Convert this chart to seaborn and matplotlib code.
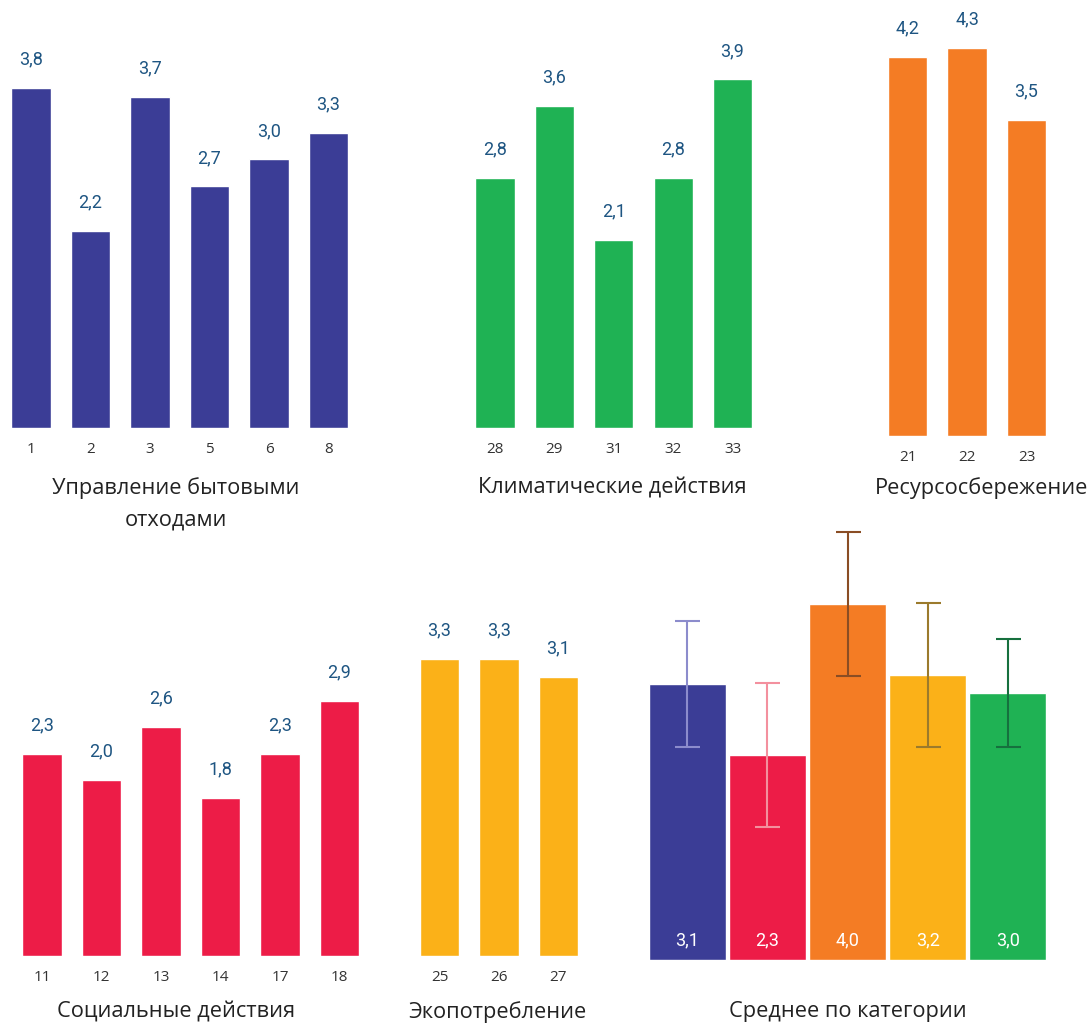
import numpy as np
import pandas as pd
import seaborn as sns
import matplotlib.pyplot as plt

# dados de cada categoria
waste_ids = ["1", "2", "3", "5", "6", "8"]
waste_vals = [3.8, 2.2, 3.7, 2.7, 3.0, 3.3]

climate_ids = ["28", "29", "31", "32", "33"]
climate_vals = [2.8, 3.6, 2.1, 2.8, 3.9]

resource_ids = ["21", "22", "23"]
resource_vals = [4.2, 4.3, 3.5]

social_ids = ["11", "12", "13", "14", "17", "18"]
social_vals = [2.3, 2.0, 2.6, 1.8, 2.3, 2.9]

eco_ids = ["25", "26", "27"]
eco_vals = [3.3, 3.3, 3.1]

mean_cats = ["waste", "social", "resource", "eco", "climate"]
mean_vals = [3.1, 2.3, 4.0, 3.2, 3.0]
mean_err = [0.71, 0.81, 0.81, 0.81, 0.61]

BLUE = "#3b3d96"
GREEN = "#1fb254"
ORANGE = "#f47c24"
RED = "#ed1c47"
YELLOW = "#fbb118"
err_colors = ["#8c8ccc", "#f3909e", "#8a4d24", "#9b7a2c", "#16703e"]
lab_color = "#1e5582"

sns.set_theme(style="white")
plt.rcParams['font.family'] = ['Roboto', 'DejaVu Sans']

W, H = 1092, 1025
fig = plt.figure(figsize=(W / 100, H / 100), dpi=100)


def painel(x0, x1, base, top, scale):
    # cria eixo em coordenadas de pixel
    ax = fig.add_axes([x0 / W, 1 - base / H, (x1 - x0) / W, (base - top) / H])
    ax.set_ylim(0, (base - top) / scale)
    for s in ax.spines.values():
        s.set_visible(False)
    ax.set_yticks([])
    ax.set_ylabel("")
    ax.set_xlabel("")
    return ax


def barras(ax, ids, vals, cor):
    sns.barplot(x=ids, y=vals, color=cor, saturation=1, width=0.66, ax=ax)
    ax.set_ylim(ax.get_ylim())
    for i, v in enumerate(vals):
        ax.annotate(f"{v:.1f}".replace(".", ","), (i, v), xytext=(0, 14),
                    textcoords="offset points", ha="center", va="bottom",
                    fontsize=13, color=lab_color)
    ax.tick_params(axis="x", length=0, pad=10, labelsize=11, labelcolor="#333333")
    for t in ax.get_xticklabels():
        t.set_fontfamily("Open Sans")


ax1 = painel(1.25, 358.25, 428, 0, 89.5)
barras(ax1, waste_ids, waste_vals, BLUE)
ax1.set_ylim(0, 428 / 89.5)

ax2 = painel(465.3, 762.2, 428, 0, 89.4)
barras(ax2, climate_ids, climate_vals, GREEN)
ax2.set_ylim(0, 428 / 89.4)

ax3 = painel(877.75, 1056.25, 436, 0, 90.2)
barras(ax3, resource_ids, resource_vals, ORANGE)
ax3.set_ylim(0, 436 / 90.2)

ax4 = painel(12.25, 369.25, 956, 520, 88)
barras(ax4, social_ids, social_vals, RED)
ax4.set_ylim(0, 436 / 88)

ax5 = painel(409.75, 588.25, 956, 520, 90)
barras(ax5, eco_ids, eco_vals, YELLOW)
ax5.set_ylim(0, 436 / 90)

# grafico de medias
ax6 = painel(647, 1048, 960, 520, 89)
sns.barplot(x=mean_cats, y=mean_vals, hue=mean_cats,
            palette=[BLUE, RED, ORANGE, YELLOW, GREEN], saturation=1,
            width=0.96, legend=False, ax=ax6)
for i, (v, e) in enumerate(zip(mean_vals, mean_err)):
    ax6.errorbar(i, v, yerr=e, color=err_colors[i], capsize=9, elinewidth=1.5,
                 capthick=1.5, fmt="none")
    ax6.text(i, 0.22, f"{v:.1f}".replace(".", ","), ha="center", va="center",
             fontsize=13, color="white")
ax6.set_xlim(-0.5, len(mean_cats) - 0.5)
ax6.set_ylim(0, 440 / 89)
ax6.set_xticks([])
ax6.set_xlabel("")
ax6.set_ylabel("")

# titulos das categorias
tit = dict(ha="center", va="center", fontsize=15.7, color="#222222",
           fontfamily="Open Sans")
fig.text(176 / W, 1 - 488 / H, "Управление бытовыми", **tit)
fig.text(176 / W, 1 - 520 / H, "отходами", **tit)
fig.text(612 / W, 1 - 488 / H, "Климатические действия", **tit)
fig.text(982 / W, 1 - 488 / H, "Ресурсосбережение", **tit)
fig.text(176 / W, 1 - 1012 / H, "Социальные действия", **tit)
fig.text(497 / W, 1 - 1012 / H, "Экопотребление", **tit)
fig.text(848 / W, 1 - 1012 / H, "Среднее по категории", **tit)

fig.savefig("out.png", dpi=100, facecolor="white")
